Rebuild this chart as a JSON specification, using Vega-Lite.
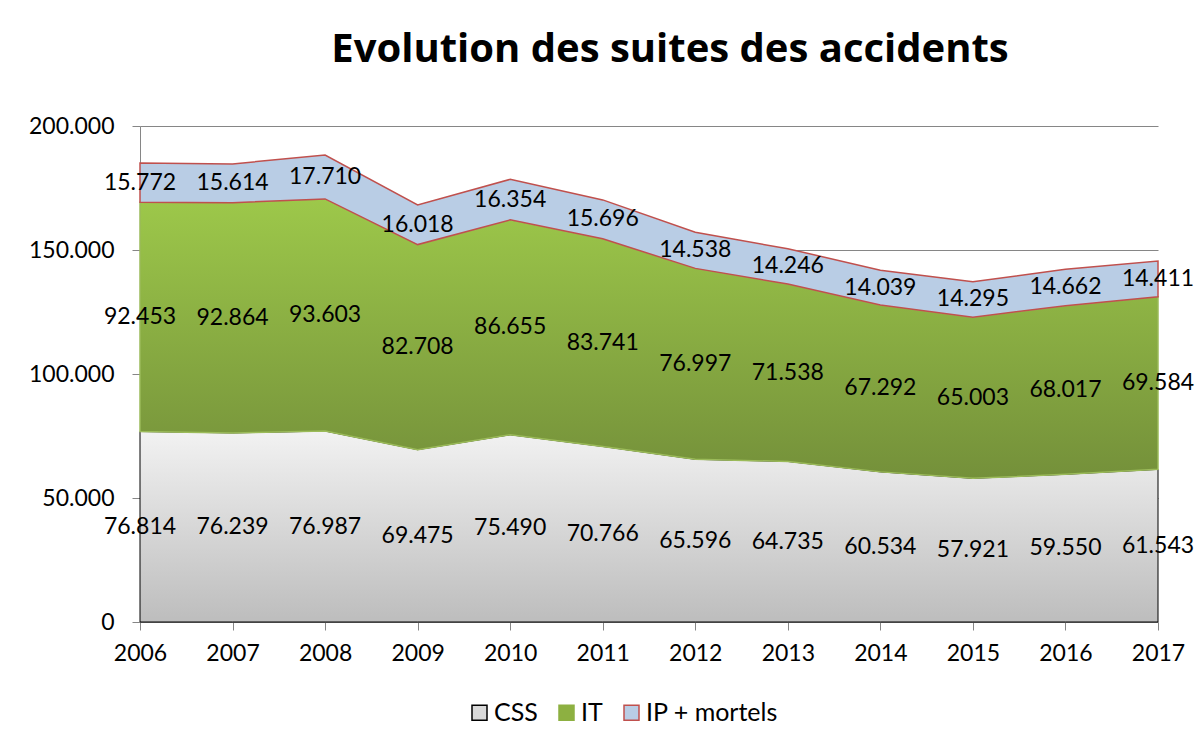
{
  "$schema": "https://vega.github.io/schema/vega-lite/v6.json",
  "width": 1018,
  "height": 496,
  "autosize": "none",
  "padding": {"left": 140, "top": 126, "right": 45, "bottom": 121},
  "background": "white",
  "config": {
    "locale": {"number": {"decimal": ",", "thousands": ".", "grouping": [3], "currency": ["", " €"]}},
    "font": "Lato",
    "view": {"stroke": null},
    "axis": {"labelFont": "Lato", "labelFontSize": 23, "labelColor": "#000000", "domainColor": "#868686", "tickColor": "#868686", "gridColor": "#868686", "gridOpacity": 1}
  },
  "title": {"text": "Evolution des suites des accidents", "fontSize": 40, "fontWeight": "bold", "font": "Open Sans", "color": "#000000", "anchor": "middle", "offset": 45, "dx": 21},
  "data": {
    "values": [
      {"year": "2006", "series": "CSS", "order": 1, "value": 76814},
      {"year": "2007", "series": "CSS", "order": 1, "value": 76239},
      {"year": "2008", "series": "CSS", "order": 1, "value": 76987},
      {"year": "2009", "series": "CSS", "order": 1, "value": 69475},
      {"year": "2010", "series": "CSS", "order": 1, "value": 75490},
      {"year": "2011", "series": "CSS", "order": 1, "value": 70766},
      {"year": "2012", "series": "CSS", "order": 1, "value": 65596},
      {"year": "2013", "series": "CSS", "order": 1, "value": 64735},
      {"year": "2014", "series": "CSS", "order": 1, "value": 60534},
      {"year": "2015", "series": "CSS", "order": 1, "value": 57921},
      {"year": "2016", "series": "CSS", "order": 1, "value": 59550},
      {"year": "2017", "series": "CSS", "order": 1, "value": 61543},
      {"year": "2006", "series": "IT", "order": 2, "value": 92453},
      {"year": "2007", "series": "IT", "order": 2, "value": 92864},
      {"year": "2008", "series": "IT", "order": 2, "value": 93603},
      {"year": "2009", "series": "IT", "order": 2, "value": 82708},
      {"year": "2010", "series": "IT", "order": 2, "value": 86655},
      {"year": "2011", "series": "IT", "order": 2, "value": 83741},
      {"year": "2012", "series": "IT", "order": 2, "value": 76997},
      {"year": "2013", "series": "IT", "order": 2, "value": 71538},
      {"year": "2014", "series": "IT", "order": 2, "value": 67292},
      {"year": "2015", "series": "IT", "order": 2, "value": 65003},
      {"year": "2016", "series": "IT", "order": 2, "value": 68017},
      {"year": "2017", "series": "IT", "order": 2, "value": 69584},
      {"year": "2006", "series": "IP + mortels", "order": 3, "value": 15772},
      {"year": "2007", "series": "IP + mortels", "order": 3, "value": 15614},
      {"year": "2008", "series": "IP + mortels", "order": 3, "value": 17710},
      {"year": "2009", "series": "IP + mortels", "order": 3, "value": 16018},
      {"year": "2010", "series": "IP + mortels", "order": 3, "value": 16354},
      {"year": "2011", "series": "IP + mortels", "order": 3, "value": 15696},
      {"year": "2012", "series": "IP + mortels", "order": 3, "value": 14538},
      {"year": "2013", "series": "IP + mortels", "order": 3, "value": 14246},
      {"year": "2014", "series": "IP + mortels", "order": 3, "value": 14039},
      {"year": "2015", "series": "IP + mortels", "order": 3, "value": 14295},
      {"year": "2016", "series": "IP + mortels", "order": 3, "value": 14662},
      {"year": "2017", "series": "IP + mortels", "order": 3, "value": 14411}
    ]
  },
  "transform": [
    {"stack": "value", "groupby": ["year"], "sort": [{"field": "order", "order": "ascending"}], "as": ["y0", "y1"]}
  ],
  "encoding": {
    "x": {"field": "year", "type": "ordinal", "scale": {"type": "point", "padding": 0},
      "axis": {"title": null, "labelAngle": 0, "tickSize": 8, "labelPadding": 12, "domain": true, "grid": false}}
  },
  "layer": [
    {
      "transform": [{"filter": "datum.series === 'CSS'"}],
      "mark": {"type": "area", "stroke": "#000000", "strokeWidth": 1,
        "fill": {"gradient": "linear", "x1": 0, "y1": 0, "x2": 0, "y2": 1, "stops": [{"offset": 0, "color": "#f2f2f2"}, {"offset": 1, "color": "#bdbdbd"}]}},
      "encoding": {
        "y": {"field": "y1", "type": "quantitative", "scale": {"domain": [0, 200000]},
          "axis": {"title": null, "values": [0, 50000, 100000, 150000, 200000], "format": ",d", "tickSize": 8, "labelPadding": 18, "grid": true, "domain": true}},
        "y2": {"field": "y0"}
      }
    },
    {
      "transform": [{"filter": "datum.series === 'IT'"}],
      "mark": {"type": "area", "stroke": "#9bbb59", "strokeWidth": 1.5,
        "fill": {"gradient": "linear", "x1": 0, "y1": 0, "x2": 0, "y2": 1, "stops": [{"offset": 0, "color": "#9dc84a"}, {"offset": 1, "color": "#74903a"}]}},
      "encoding": {
        "y": {"field": "y1", "type": "quantitative"},
        "y2": {"field": "y0"}
      }
    },
    {
      "transform": [{"filter": "datum.series === 'IP + mortels'"}],
      "mark": {"type": "area", "stroke": "#c0504d", "strokeWidth": 1.5, "fill": "#b9cde5"},
      "encoding": {
        "y": {"field": "y1", "type": "quantitative"},
        "y2": {"field": "y0"}
      }
    },
    {
      "mark": {"type": "point", "shape": "square", "filled": true, "size": 0, "opacity": 1},
      "encoding": {
        "y": {"field": "y1", "type": "quantitative"},
        "fill": {"field": "series", "type": "nominal",
          "scale": {"domain": ["CSS", "IT", "IP + mortels"], "range": ["#d9d9d9", "#8db041", "#b9cde5"]},
          "legend": {"title": null, "orient": "none", "legendX": 327, "legendY": 574, "direction": "horizontal", "symbolOpacity": 1, "symbolSize": 225, "symbolStrokeWidth": 1.5, "labelFontSize": 25, "labelFont": "Lato", "labelColor": "#000000", "columnPadding": 16, "labelOffset": 2}},
        "stroke": {"field": "series", "type": "nominal",
          "scale": {"domain": ["CSS", "IT", "IP + mortels"], "range": ["#000000", "#8db041", "#c0504d"]}}
      }
    },
    {
      "transform": [
        {"fold": ["y0", "y1"], "as": ["edge", "pos"]},
        {"aggregate": [{"op": "mean", "field": "pos", "as": "mid"}], "groupby": ["year", "series", "value"]}
      ],
      "mark": {"type": "text", "fontSize": 23, "font": "Lato", "color": "#000000", "baseline": "middle", "align": "center"},
      "encoding": {
        "y": {"field": "mid", "type": "quantitative"},
        "text": {"field": "value", "type": "quantitative", "format": ",d"}
      }
    }
  ]
}
